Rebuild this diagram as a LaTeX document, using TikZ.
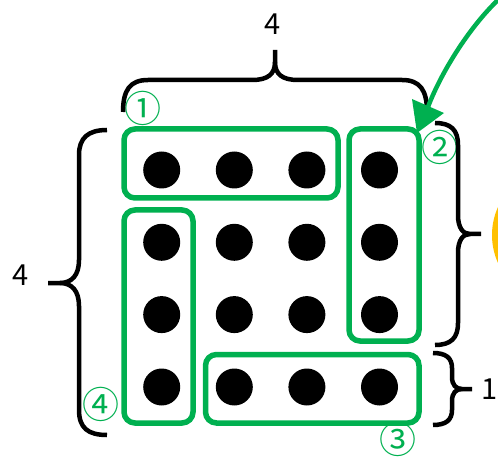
\documentclass[tikz,border=0pt]{standalone}
\usepackage{fontspec}
\setmainfont{Noto Sans}
\newfontfamily\jpfont{Noto Sans CJK JP}
\usetikzlibrary{arrows.meta}
\definecolor{grn}{HTML}{00B050}
\definecolor{orng}{HTML}{FFC000}
\begin{document}
\begin{tikzpicture}[x=1pt,y=-1pt,
  dot/.style={circle,fill=black,minimum size=37pt,inner sep=0pt},
  grp/.style={draw=grn,line width=5.5pt,rounded corners=11pt,inner sep=0pt,outer sep=0pt},
  bracepath/.style={draw=black,line width=4.5pt},
  lab/.style={text=grn,font=\jpfont\fontsize{37}{37}\selectfont,inner sep=0pt},
  num/.style={text=black,font=\jpfont\fontsize{29}{29}\selectfont,inner sep=0pt},
  pointer/.style={draw=grn,line width=4.5pt},
  pointerhead/.style={fill=grn}]
\useasboundingbox (0,0) rectangle (498,457);
\clip (0,0) rectangle (498,457);
% orange circle at right edge
\fill[orng] (560,235) circle[radius=68];
% dots
\foreach \r [count=\i] in {170,242.3,314.6,387}{
  \foreach \c [count=\j] in {161.7,234.3,306.9,379.5}{
    \node[dot] (d\i\j) at (\c,\r) {};
  }
}
% groups
\node[grp,minimum width=214pt,minimum height=69pt] (g1) at (231,163.5) {};
\node[grp,minimum width=70pt,minimum height=212pt] (g2) at (384,235) {};
\node[grp,minimum width=213.5pt,minimum height=68.5pt] (g3) at (312.25,388.75) {};
\node[grp,minimum width=69pt,minimum height=213pt] (g4) at (158.5,316.5) {};
% labels
\node[lab] (l1) at (142.5,108) {①};
\node[lab] (l2) at (440,147) {②};
\node[lab] (l3) at (397.5,439.5) {③};
\node[lab] (l4) at (101,404) {④};
% braces
\draw[bracepath] (123,112) .. controls (123,90) and (130,80) .. (148,80) -- (252,80) .. controls (268,80) and (275,74) .. (275,62) -- (275,50);
\draw[bracepath] (275,62) .. controls (275,74) and (282,80) .. (298,80) -- (402,80) .. controls (420,80) and (427,90) .. (427,112);
\draw[bracepath] (107,130) .. controls (88,130) and (79,138) .. (79,155) -- (79,260) .. controls (79,275) and (72,283) .. (60,283) -- (48,283);
\draw[bracepath] (60,283) .. controls (72,283) and (79,291) .. (79,306) -- (79,410) .. controls (79,428) and (88,435) .. (107,435);
\draw[bracepath] (435,123) .. controls (451,123) and (458,130) .. (458,145) -- (458,215) .. controls (458,228) and (463,234) .. (470,234) -- (481,234);
\draw[bracepath] (470,234) .. controls (463,234) and (458,240) .. (458,253) -- (458,323) .. controls (458,338) and (451,345) .. (435,345);
\draw[bracepath] (433,353) .. controls (446,353) and (452,358) .. (452,368) -- (452,377) .. controls (452,385) and (456,389) .. (462,389) -- (472,389);
\draw[bracepath] (462,389) .. controls (456,389) and (452,393) .. (452,401) -- (452,410) .. controls (452,420) and (446,425) .. (433,425);
% brace numbers
\node[num] (n1) at (273,24) {4};
\node[num] (n2) at (20.5,275) {4};
\node[num] (n3) at (490,389) {1};
% arrow
\coordinate (src) at (500,-2);
\coordinate (base) at (428,107);
\coordinate (tgt) at (417,133);
\draw[pointer] (src) .. controls (468,28) and (440,75) .. (base);
\fill[pointerhead] (412,99) -- (444,113) -- (tgt) -- cycle;
\end{tikzpicture}
\end{document}
